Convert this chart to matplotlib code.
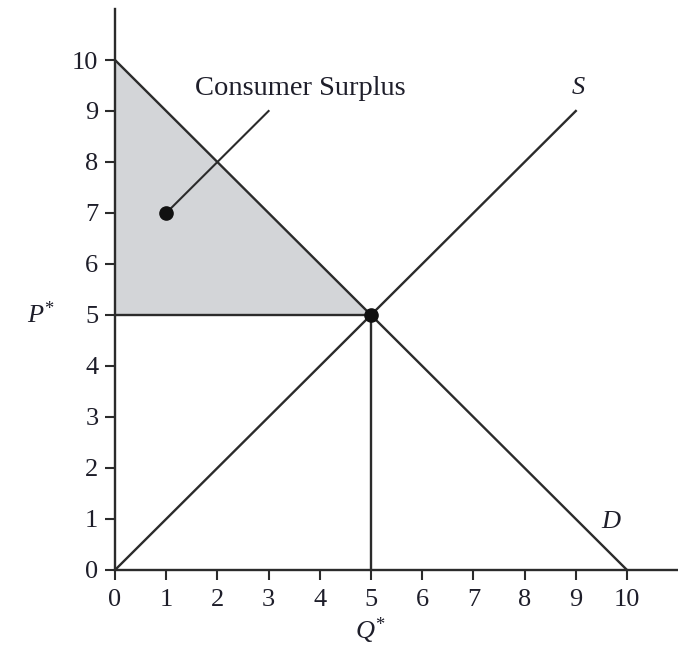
import numpy as np
import matplotlib
matplotlib.use("Agg")
import matplotlib.pyplot as plt

# Demand and supply schedules
q_demand = [0, 10]
p_demand = [10, 0]
q_supply = [0, 9]
p_supply = [0, 9]

# Equilibrium and consumer surplus marker
q_star = 5
p_star = 5
cs_point = (1, 7)
cs_leader_end = (3, 9)

ticks = list(range(11))

plt.rcParams['font.family'] = ['Liberation Serif', 'DejaVu Serif']
plt.rcParams['mathtext.fontset'] = 'custom'
plt.rcParams['mathtext.it'] = 'Liberation Serif:italic'
plt.rcParams['mathtext.rm'] = 'Liberation Serif'
line_col = '#2b2b2b'
text_col = '#1e1e2a'
fs = 19

fig = plt.figure(figsize=(6.78, 6.62), dpi=100)
ax = fig.add_axes([0.1696, 0.139, 0.8307, 0.8474])

# Shaded consumer surplus triangle
ax.fill([0, 0, q_star], [p_demand[0], p_star, p_star], color='#d3d5d8', lw=0, zorder=1)

ax.plot(q_demand, p_demand, color=line_col, lw=1.7, zorder=3)
ax.plot(q_supply, p_supply, color=line_col, lw=1.7, zorder=3)
ax.plot([0, q_star], [p_star, p_star], color=line_col, lw=1.7, zorder=3)
ax.plot([q_star, q_star], [0, p_star], color=line_col, lw=1.7, zorder=3)

# Leader line and dots
ax.plot([cs_point[0], cs_leader_end[0]], [cs_point[1], cs_leader_end[1]],
        color=line_col, lw=1.5, zorder=3)
ax.plot(*cs_point, 'o', color='#111111', ms=9.5, zorder=4)
ax.plot(q_star, p_star, 'o', color='#111111', ms=9.5, zorder=4)

ax.text(3.62, 9.45, 'Consumer Surplus', fontsize=20.5, color=text_col,
        ha='center', va='center')
ax.text(9.05, 9.45, '$S$', fontsize=fs, color=text_col,
        ha='center', va='center')
ax.text(9.7, 0.95, '$D$', fontsize=fs, color=text_col,
        ha='center', va='center')
ax.text(-1.45, p_star, '$P^{*}$', fontsize=fs, color=text_col,
        ha='center', va='center')
ax.text(q_star, -1.2, '$Q^{*}$', fontsize=fs, color=text_col,
        ha='center', va='center')

ax.set_xlim(0, 11)
ax.set_ylim(0, 11)
ax.set_xticks(ticks)
ax.set_yticks(ticks)
ax.tick_params(direction='out', length=7, width=1.5, color=line_col,
               labelsize=fs, labelcolor=text_col)
ax.tick_params(axis='x', pad=7)
ax.tick_params(axis='y', pad=5)
for side in ['top', 'right']:
    ax.spines[side].set_visible(False)
for side in ['left', 'bottom']:
    ax.spines[side].set_linewidth(1.7)
    ax.spines[side].set_color(line_col)
ax.patch.set_alpha(0)

fig.savefig('out.png', dpi=100)
